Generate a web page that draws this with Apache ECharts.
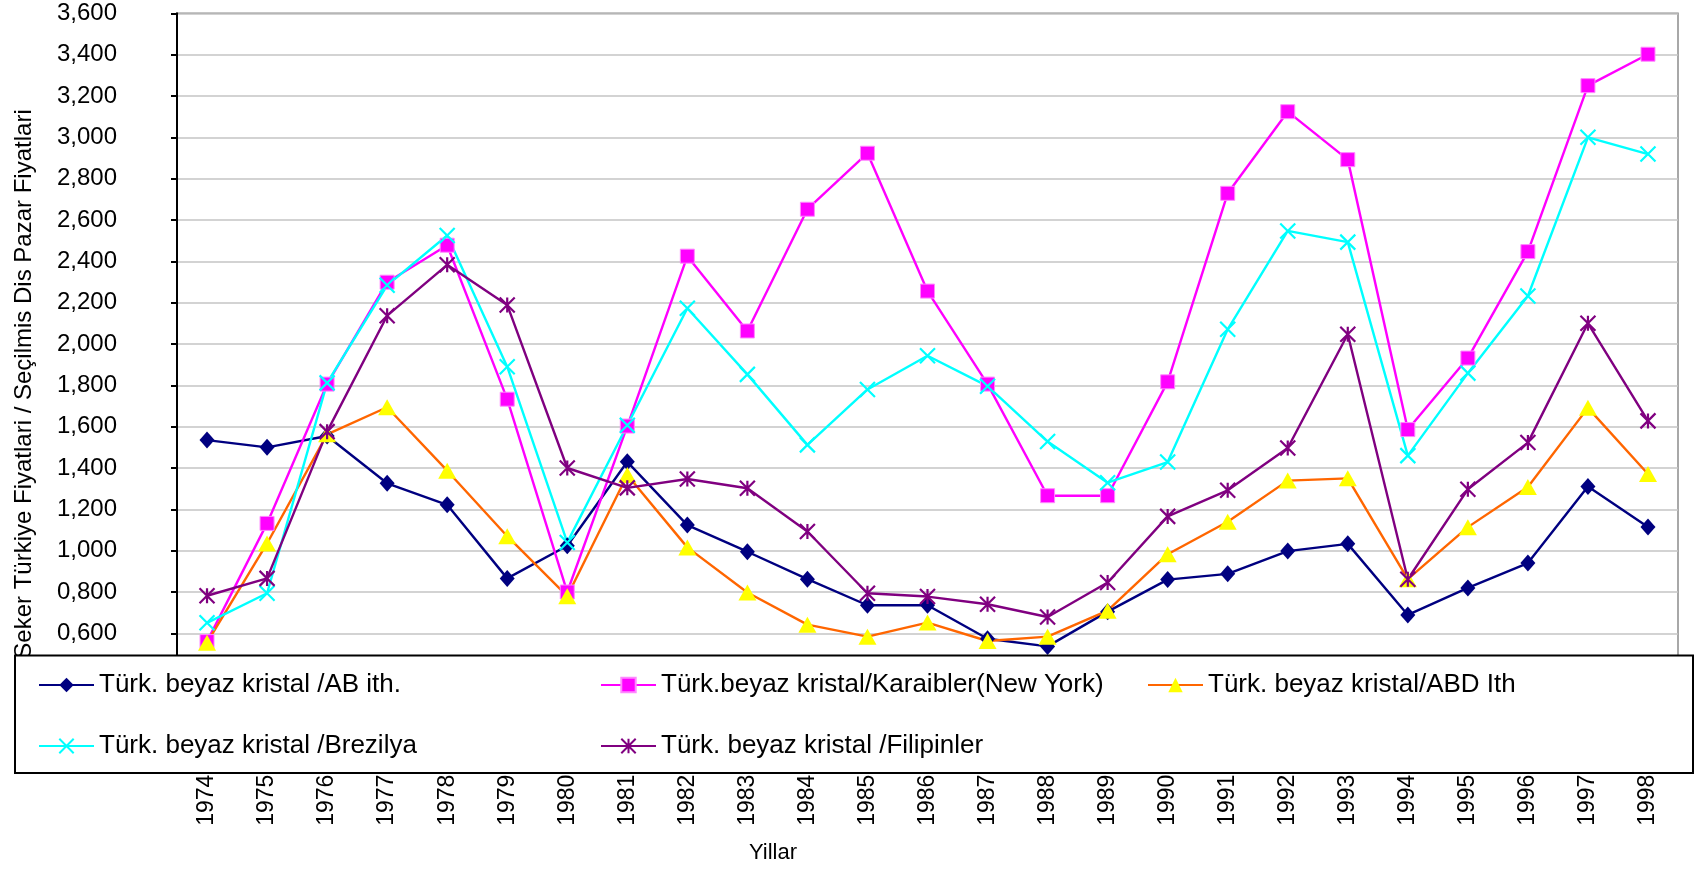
<!DOCTYPE html>
<html>
<head>
<meta charset="utf-8">
<title>Seker fiyatlari</title>
<script src="https://cdn.jsdelivr.net/npm/echarts@6/dist/echarts.min.js"></script>
<style>
  html, body { margin: 0; padding: 0; background: #fff; }
  #chart { width: 1695px; height: 871px; }
</style>
</head>
<body>
<div id="chart"></div>
<script>
// veriler (bin)
const years = ['1974', '1975', '1976', '1977', '1978', '1979', '1980', '1981', '1982', '1983', '1984', '1985', '1986',
  '1987', '1988', '1989', '1990', '1991', '1992', '1993', '1994', '1995', '1996', '1997', '1998'];
const abIth = [1.535, 1.50, 1.555, 1.326, 1.222, 0.866, 1.024, 1.43, 1.124, 0.995, 0.862, 0.736, 0.736,
  0.574, 0.537, 0.705, 0.86, 0.888, 0.998, 1.033, 0.689, 0.82, 0.94, 1.31, 1.115];
const karaibler = [0.56, 1.132, 1.806, 2.299, 2.478, 1.733, 0.8, 1.603, 2.425, 2.063, 2.652, 2.923, 2.256,
  1.806, 1.266, 1.266, 1.817, 2.729, 3.124, 2.892, 1.586, 1.932, 2.447, 3.25, 3.402];
const abdIth = [0.555, 1.035, 1.563, 1.694, 1.387, 1.07, 0.78, 1.366, 1.016, 0.798, 0.642, 0.584, 0.652,
  0.563, 0.584, 0.71, 0.983, 1.14, 1.339, 1.35, 0.862, 1.114, 1.308, 1.691, 1.371];
const brezilya = [0.651, 0.794, 1.812, 2.284, 2.525, 1.89, 1.04, 1.607, 2.173, 1.853, 1.512, 1.78, 1.943,
  1.796, 1.528, 1.329, 1.429, 2.071, 2.547, 2.493, 1.46, 1.859, 2.232, 3.0, 2.919];
const filipinler = [0.782, 0.866, 1.576, 2.137, 2.383, 2.189, 1.4, 1.304, 1.347, 1.302, 1.093, 0.794, 0.778,
  0.741, 0.679, 0.846, 1.166, 1.292, 1.497, 2.047, 0.862, 1.297, 1.523, 2.1, 1.628];
const seriesNames = [
  'Türk. beyaz kristal /AB ith.',
  'Türk.beyaz kristal/Karaibler(New York)',
  'Türk. beyaz kristal/ABD Ith',
  'Türk. beyaz kristal /Brezilya',
  'Türk. beyaz kristal /Filipinler'
];
const yAxisTitle = 'Seker Türkiye Fiyatlari / Seçilmis Dis Pazar Fiyatlari';
const xAxisTitle = 'Yillar';

const font = "'Liberation Sans', Arial, sans-serif";
const xMark = 'path://M0,0L10,10M10,0L0,10';
const starMark = 'path://M0,0L10,10M10,0L0,10M5,0L5,10';

const myChart = echarts.init(document.getElementById('chart'), null, { renderer: 'canvas' });

function lineSeries(name, data, lineColor, symbol, size, itemStyle) {
  return {
    name: name,
    type: 'line',
    data: data,
    symbol: symbol,
    symbolSize: size,
    showAllSymbol: true,
    lineStyle: { color: lineColor, width: 2.4 },
    itemStyle: itemStyle,
    emphasis: { disabled: true },
    z: 2
  };
}

// lejant kutusu: her kalem ayri konumda (Excel duzeni)
const legendPos = [
  [38, 670], [600, 670], [1147, 670],
  [38, 731], [600, 731]
];
const legends = seriesNames.map((name, i) => ({
  data: [name],
  left: legendPos[i][0],
  top: legendPos[i][1],
  padding: 0,
  itemWidth: 55,
  itemHeight: 18,
  itemGap: 0,
  selectedMode: false,
  z: 20,
  textStyle: { fontSize: 26, fontFamily: font, color: '#000', lineHeight: 30 }
}));

const option = {
  backgroundColor: '#fff',
  animation: false,
  textStyle: { fontFamily: font },
  legend: legends,
  grid: {
    left: 177,
    right: 17,
    top: 13.3,
    bottom: 196.3,
    containLabel: false,
    show: true,
    borderColor: '#8c8c8c',
    borderWidth: 1.5
  },
  xAxis: {
    type: 'category',
    data: years,
    boundaryGap: true,
    axisLine: { lineStyle: { color: '#000', width: 2 } },
    axisTick: { show: false },
    axisLabel: {
      rotate: 90,
      interval: 0,
      margin: 100,
      fontSize: 23,
      fontFamily: font,
      color: '#000'
    }
  },
  yAxis: {
    type: 'value',
    min: 0.4,
    max: 3.6,
    interval: 0.2,
    axisLine: { show: true, lineStyle: { color: '#000', width: 2 } },
    axisTick: { show: true, length: 6, lineStyle: { color: '#000', width: 2 } },
    splitLine: { lineStyle: { color: '#c4c4c4', width: 1.5 } },
    axisLabel: {
      margin: 60,
      fontSize: 24,
      fontFamily: font,
      color: '#000',
      formatter: function(v) {
        if (v < 0.5) return '';
        return v.toFixed(3).replace('.', ',');
      }
    }
  },
  graphic: [
    {
      type: 'text',
      x: 24,
      y: 384,
      rotation: Math.PI / 2,
      z: 1,
      style: { text: yAxisTitle, fontSize: 24, fontFamily: font, fill: '#000', align: 'center', verticalAlign: 'middle' }
    },
    {
      type: 'rect',
      z: 10,
      shape: { x: 15, y: 655.5, width: 1678, height: 117.5 },
      style: { fill: '#fff', stroke: '#000', lineWidth: 2 }
    },
    {
      type: 'text',
      x: 773,
      y: 853,
      z: 1,
      style: { text: xAxisTitle, fontSize: 22, fontFamily: font, fill: '#000', align: 'center', verticalAlign: 'middle' }
    }
  ],
  series: [
    lineSeries(seriesNames[0], abIth, '#000080', 'diamond', [15, 17], { color: '#000080' }),
    lineSeries(seriesNames[1], karaibler, '#ff00ff', 'rect', 14,
      { color: '#ff00ff', borderColor: '#ff88ff', borderWidth: 1 }),
    lineSeries(seriesNames[2], abdIth, '#ff6600', 'triangle', [18, 16], { color: '#ffff00' }),
    lineSeries(seriesNames[3], brezilya, '#00ffff', xMark, 15,
      { color: '#00ffff', borderColor: '#00ffff', borderWidth: 2.2 }),
    lineSeries(seriesNames[4], filipinler, '#800080', starMark, 15,
      { color: '#800080', borderColor: '#800080', borderWidth: 2.2 })
  ]
};

myChart.setOption(option, true);
window.addEventListener('resize', () => {
  myChart.resize();
});
</script>
</body>
</html>
